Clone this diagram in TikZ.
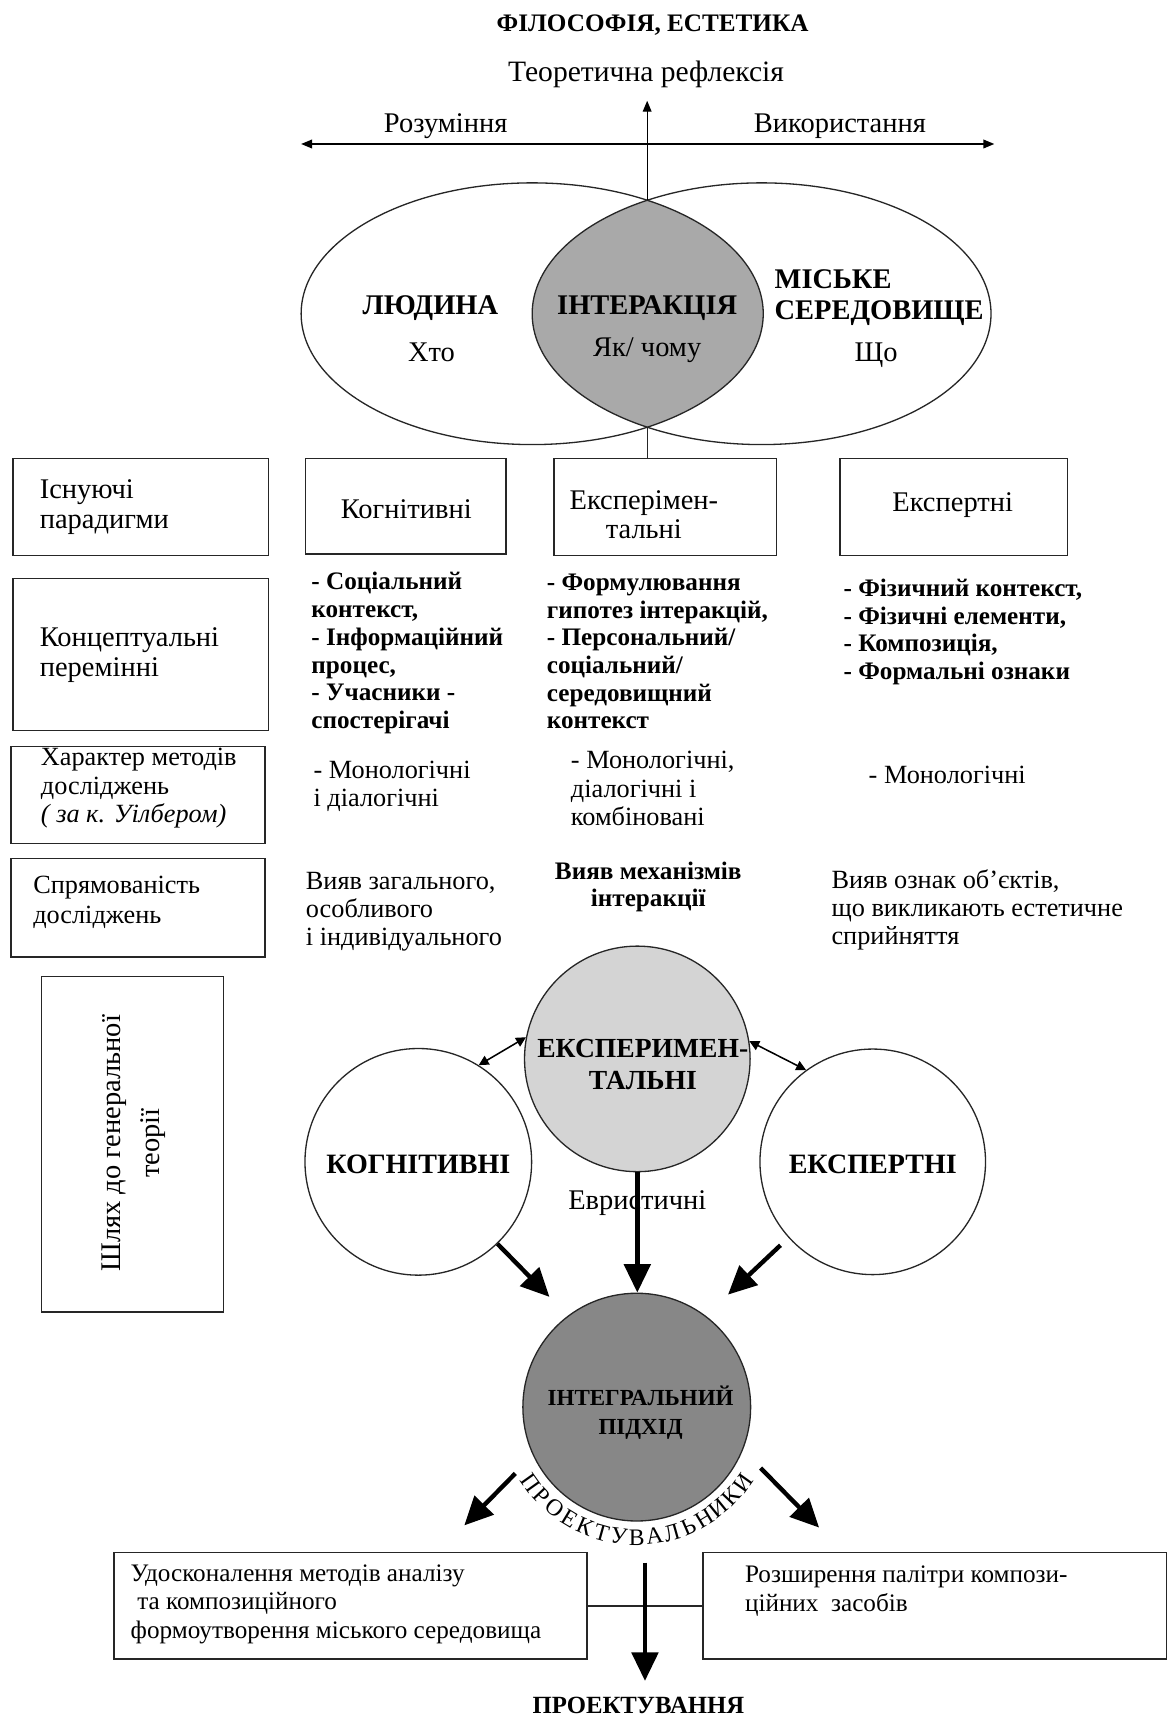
\documentclass[tikz,border=0pt]{standalone}
\usepackage{fontspec}
\setmainfont{Liberation Serif}
\usetikzlibrary{arrows.meta,shapes.geometric}
\definecolor{lensgray}{HTML}{A9A9A9}
\definecolor{expgray}{HTML}{D4D4D4}
\definecolor{intgray}{HTML}{878787}
\newcommand\myfs[2]{\fontsize{#1}{#2}\selectfont}
\tikzset{
  box/.style={draw=black!85, line width=0.6pt, inner sep=0pt},
  txt/.style={inner sep=0pt, align=left, anchor=west},
  ctxt/.style={inner sep=0pt, align=center},
  circ/.style={draw=black!85, line width=0.6pt, circle, inner sep=0pt},
  ell/.style={draw=black!85, line width=0.6pt, ellipse, inner sep=0pt},
  thinarrow/.style={line width=0.6pt, -{Triangle[length=5pt,width=4pt]}},
  boththin/.style={line width=0.6pt, {Triangle[length=5pt,width=4pt]}-{Triangle[length=5pt,width=4pt]}},
  smallboth/.style={line width=0.7pt, {Triangle[length=4.5pt,width=4.5pt]}-{Triangle[length=4.5pt,width=4.5pt]}},
  bigarrow/.style={line width=2pt, -{Triangle[length=13pt,width=12pt]}},
  conn/.style={line width=0.6pt, draw=black!85},
  arcletter/.style={inner sep=0pt, anchor=base, font=\myfs{10.8}{12}},
}
\begin{document}
\begin{tikzpicture}[x=0.5pt,y=-0.5pt]
\useasboundingbox (0,0) rectangle (1067,1568);
\fill[white] (0,0) rectangle (1067,1568);

% ---------- top ----------
\node[ctxt, font=\bfseries\myfs{11.5}{13}] (title) at (596,23) {ФІЛОСОФІЯ, ЕСТЕТИКА};
\node[ctxt, font=\myfs{13.5}{15}] (refl) at (590,68) {Теоретична рефлексія};
\node[ctxt, font=\myfs{13}{15}] (rozum) at (407,115) {Розуміння};
\node[ctxt, font=\myfs{13}{15}] (vykor) at (767,115) {Використання};

% ---------- Venn ----------
\begin{scope}
  \clip (486,286.5) ellipse [x radius=211, y radius=119.5];
  \fill[lensgray] (695.5,286.5) ellipse [x radius=209.5, y radius=119.5];
\end{scope}
\node[ell, minimum width=211pt, minimum height=119.5pt] (hum) at (486,286.5) {};
\node[ell, minimum width=209.5pt, minimum height=119.5pt] (env) at (695.5,286.5) {};

\coordinate (ltop) at (591,183);
\coordinate (lbot) at (591,390);
\coordinate (uptip) at (591,92);
\coordinate (hl) at (275,131.5);
\coordinate (hr) at (908,131.5);
\draw[thinarrow] (ltop) -- (uptip);
\draw[boththin] (hl) -- (hr);

\node[ctxt, font=\bfseries\myfs{13}{15}] (ludyna) at (393,281) {ЛЮДИНА};
\node[ctxt, font=\myfs{13}{15}] (khto) at (394,322) {Хто};
\node[ctxt, font=\bfseries\myfs{13}{15}] (inter) at (591,281) {ІНТЕРАКЦІЯ};
\node[ctxt, font=\myfs{13}{15}] (yak) at (591,320) {Як/ чому};
\node[txt, font=\bfseries\myfs{13}{14}] (misk) at (707,272) {МІСЬКЕ\\СЕРЕДОВИЩЕ};
\node[ctxt, font=\myfs{13}{15}] (shcho) at (800,324) {Що};

% ---------- row 1 ----------
\node[box, minimum width=116.5pt, minimum height=44pt] (b1) at (128.5,463) {};
\node[box, minimum width=91.5pt, minimum height=43.5pt] (b2) at (370.5,462.5) {};
\node[box, minimum width=101.5pt, minimum height=44pt] (b3) at (607.5,463) {};
\node[box, minimum width=104pt, minimum height=44pt] (b4) at (871,463) {};
\draw[conn] (lbot) -- (lbot |- b3.north);

\node[txt, font=\myfs{13}{14}] (t1) at (36,463) {Існуючі\\парадигми};
\node[ctxt, font=\myfs{13}{14}] (t2) at (371,465) {Когнітивні};
\node[ctxt, font=\myfs{13}{13.5}] (t3) at (588,470) {Експерімен-\\тальні};
\node[ctxt, font=\myfs{13}{14}] (t4) at (870,461) {Експертні};

% ---------- row 2 ----------
\node[box, minimum width=116.5pt, minimum height=69.5pt] (r2) at (128.5,597.5) {};
\node[txt, font=\myfs{13}{13.5}] (r2t) at (36,598) {Концептуальні\\перемінні};
\node[txt, font=\bfseries\myfs{11.5}{12.65}] (l1) at (284,596.5) {- Соціальний\\контекст,\\- Інформаційний\\процес,\\- Учасники -\\спостерігачі};
\node[txt, font=\bfseries\myfs{11.5}{12.65}] (l2) at (499,595) {- Формулювання\\гипотез інтеракцій,\\- Персональний/\\соціальний/\\середовищний\\контекст};
\node[txt, font=\bfseries\myfs{11.5}{12.65}] (l3) at (770,577) {- Фізичний контекст,\\- Фізичні елементи,\\- Композиція,\\- Формальні ознаки};

% ---------- row 3 ----------
\node[box, minimum width=116pt, minimum height=44pt] (r3) at (126,726) {};
\node[txt, font=\myfs{12}{13}] (r3t) at (37,720) {Характер методів\\досліджень\\{\itshape ( за к. Уілбером)}};
\node[txt, font=\myfs{12}{13}] (m1) at (286,718) {- Монологічні\\і діалогічні};
\node[txt, font=\myfs{12}{13}] (m2) at (521,720) {- Монологічні,\\діалогічні і\\комбіновані};
\node[ctxt, font=\myfs{12}{13}] (m3) at (865,708) {- Монологічні};

% ---------- row 4 ----------
\node[box, minimum width=116pt, minimum height=45pt] (r4) at (126,829) {};
\node[txt, font=\myfs{12}{14}] (r4t) at (30,824) {Спрямованість\\досліджень};
\node[txt, font=\myfs{12}{12.8}] (v1) at (279,833) {Вияв загального,\\особливого\\і індивідуального};
\node[ctxt, font=\bfseries\myfs{11.5}{12}] (v2) at (592,810) {Вияв механізмів\\інтеракції};
\node[txt, font=\myfs{12}{12.8}] (v3) at (759,831) {Вияв ознак об’єктів,\\що викликають естетичне\\сприйняття};

% ---------- left tall box ----------
\node[box, minimum width=83pt, minimum height=153pt] (path) at (121,1045) {};
\node[ctxt, font=\myfs{13}{17.5}, rotate=90] (patht) at (122,1044) {Шлях до генеральної\\теорії};

% ---------- circles ----------
\node[circ, fill=expgray, minimum size=103pt] (eksp) at (582,967) {};
\node[circ, fill=white, minimum size=103.5pt] (kogn) at (382,1061) {};
\node[circ, fill=white, minimum size=103pt] (expert) at (797,1061) {};
\node[circ, fill=intgray, minimum size=104pt] (integ) at (581.5,1285) {};

\node[ctxt, font=\bfseries\myfs{12.6}{14.5}] (ekspt) at (587,972) {ЕКСПЕРИМЕН-\\ТАЛЬНІ};
\node[ctxt, font=\bfseries\myfs{12.8}{14}] (kognt) at (382,1063) {КОГНІТИВНІ};
\node[ctxt, font=\bfseries\myfs{12.8}{14}] (expertt) at (797,1063) {ЕКСПЕРТНІ};
\node[ctxt, font=\bfseries\myfs{10.5}{13.5}] (integt) at (585,1290) {ІНТЕГРАЛЬНИЙ\\ПІДХІД};
\node[ctxt, font=\myfs{13}{15}] (evr) at (582,1099) {Евристичні};

\draw[smallboth] (kogn.58) -- (eksp.169);
\draw[smallboth] (eksp.9) -- (expert.126);
\draw[bigarrow] (eksp.south) -- (eksp.south |- integ.north);
\draw[bigarrow, shorten >=12pt] (kogn.-46) -- (integ.127);
\draw[bigarrow, shorten <=5pt, shorten >=14pt] (expert.222) -- (integ.53);

\coordinate (aL) at (424,1393);
\coordinate (aR) at (748,1395);
\draw[bigarrow, shorten <=11.5pt] (integ.205) -- (aL);
\draw[bigarrow, shorten <=11.5pt] (integ.-22) -- (aR);

% curved label ПРОЕКТУВАЛЬНИКИ
\foreach \ch [count=\i from 0] in {П,Р,О,Е,К,Т,У,В,А,Л,Ь,Н,И,К,И} {
  \pgfmathsetmacro\ang{144.6-\i*7.8}
  \pgfmathsetmacro\rot{90-\ang}
  \path (integ.center) ++(\ang:126) node[arcletter, rotate=\rot] (pr\i) {\ch};
}

% ---------- bottom ----------
\node[box, minimum width=216pt, minimum height=48.5pt] (impr) at (320,1466.5) {};
\node[box, minimum width=211.5pt, minimum height=48.5pt] (extn) at (853.5,1466.5) {};
\draw[conn] (impr.east) -- (extn.west);
\node[txt, font=\myfs{11.5}{13}] (imprt) at (119,1465) {Удосконалення методів аналізу\\\hspace{3pt}та композиційного\\формоутворення міського середовища};
\node[txt, font=\myfs{11.5}{13}] (extnt) at (680,1453) {Розширення палітри компози-\\ційних\ \ засобів};

\node[ctxt, font=\bfseries\myfs{11.3}{13}] (proj) at (583,1557) {ПРОЕКТУВАННЯ};
\coordinate (vstart) at (589,1427);
\draw[bigarrow, shorten >=7pt] (vstart) -- (vstart |- proj.north);
\end{tikzpicture}
\end{document}
